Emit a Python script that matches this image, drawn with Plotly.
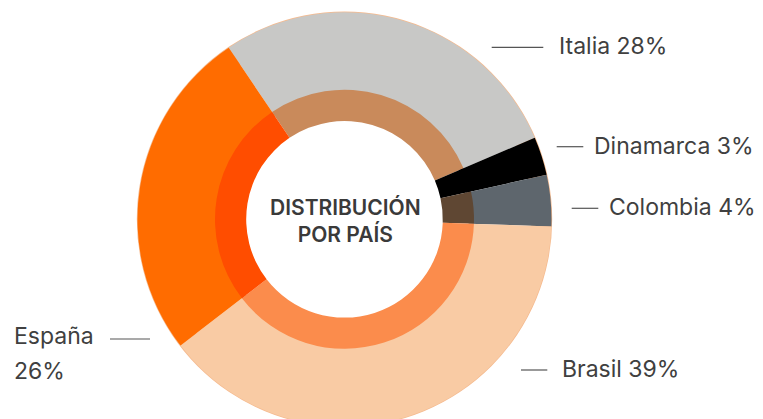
import plotly.graph_objects as go

# Share of total by country (percent)
countries = ["Italia", "Dinamarca", "Colombia", "Brasil", "España"]
shares = [28, 3, 4, 39, 26]

# Slice colours for the outer ring and the darker inner band
outer_colors = ["#c8c8c6", "#000000", "#5e666d", "#f9cba4", "#ff6c00"]
inner_colors = ["#c98a5b", "#000000", "#5f4733", "#fb8c4c", "#ff4d00"]
rim_color = "#f5bb90"

center_title = "DISTRIBUCIÓN<br>POR PAÍS"

# ---- layout geometry (pixels) ----
W, H = 763, 427
CX, CY = 344.5, 219.3
R_OUT, R_BAND, R_HOLE = 207.0, 129.5, 98.3

TEXT_COLOR = "#404040"
LINE_COLOR = "#555555"
FONT = "Inter"


def px(x):
    return x / W


def py(y):
    return 1 - y / H


def domain(r):
    return dict(x=[px(CX - r), px(CX + r)], y=[py(CY + r), py(CY - r)])


fig = go.Figure()

common = dict(
    labels=countries,
    values=shares,
    sort=False,
    direction="clockwise",
    rotation=-34,
    textinfo="none",
    hoverinfo="label+percent",
    showlegend=False,
)

# thin warm rim behind the ring
fig.add_trace(go.Pie(
    values=[1], labels=[""], sort=False, textinfo="none", hoverinfo="skip",
    showlegend=False, hole=0.9, domain=domain(R_OUT + 0.7),
    marker=dict(colors=[rim_color], line=dict(width=0)),
))
fig.add_trace(go.Pie(
    **common,
    hole=0.6,
    domain=domain(R_OUT),
    marker=dict(colors=outer_colors, line=dict(width=0)),
))
fig.add_trace(go.Pie(
    **common,
    hole=R_HOLE / R_BAND,
    domain=domain(R_BAND),
    marker=dict(colors=inner_colors, line=dict(width=0)),
))

# Label placement: (dash x0, dash x1, y, text x)
label_layout = {
    "Italia": (491.7, 543.3, 47.3, 557.0),
    "Dinamarca": (556.7, 583.3, 146.7, 591.5),
    "Colombia": (571.7, 598.3, 208.3, 606.5),
    "Brasil": (521.0, 547.3, 370.0, 559.5),
}

label_font = dict(family=FONT, size=23, color=TEXT_COLOR)

annotations = []
shapes = []
for name, share in zip(countries, shares):
    if name in label_layout:
        x0, x1, y, tx = label_layout[name]
        shapes.append(dict(type="line", xref="paper", yref="paper",
                           x0=px(x0), x1=px(x1), y0=py(y), y1=py(y),
                           line=dict(color=LINE_COLOR, width=1.2)))
        annotations.append(dict(text=f"{name} {share}%", x=px(tx), y=py(y - 1),
                                xref="paper", yref="paper", xanchor="left",
                                yanchor="middle", showarrow=False,
                                font=label_font))
    else:
        # Two-line label on the left side
        shapes.append(dict(type="line", xref="paper", yref="paper",
                           x0=px(110), x1=px(150), y0=py(339), y1=py(339),
                           line=dict(color=LINE_COLOR, width=1.2)))
        annotations.append(dict(text=name, x=px(12), y=py(335.5),
                                xref="paper", yref="paper", xanchor="left",
                                yanchor="middle", showarrow=False,
                                font=label_font))
        annotations.append(dict(text=f"{share}%", x=px(12), y=py(371),
                                xref="paper", yref="paper", xanchor="left",
                                yanchor="middle", showarrow=False,
                                font=label_font))

annotations.append(dict(text=center_title, x=px(CX + 1), y=py(220.5),
                        xref="paper", yref="paper", xanchor="center",
                        yanchor="middle", showarrow=False,
                        font=dict(family=FONT, size=21, color="#3a3a3a", weight=600)))

fig.update_layout(
    width=W, height=H,
    margin=dict(l=0, r=0, t=0, b=0),
    paper_bgcolor="white",
    plot_bgcolor="white",
    annotations=annotations,
    shapes=shapes,
)

fig.write_html(
    "out.html",
    post_script="document.documentElement.style.overflow='hidden';"
                "document.body.style.overflow='hidden';",
)
